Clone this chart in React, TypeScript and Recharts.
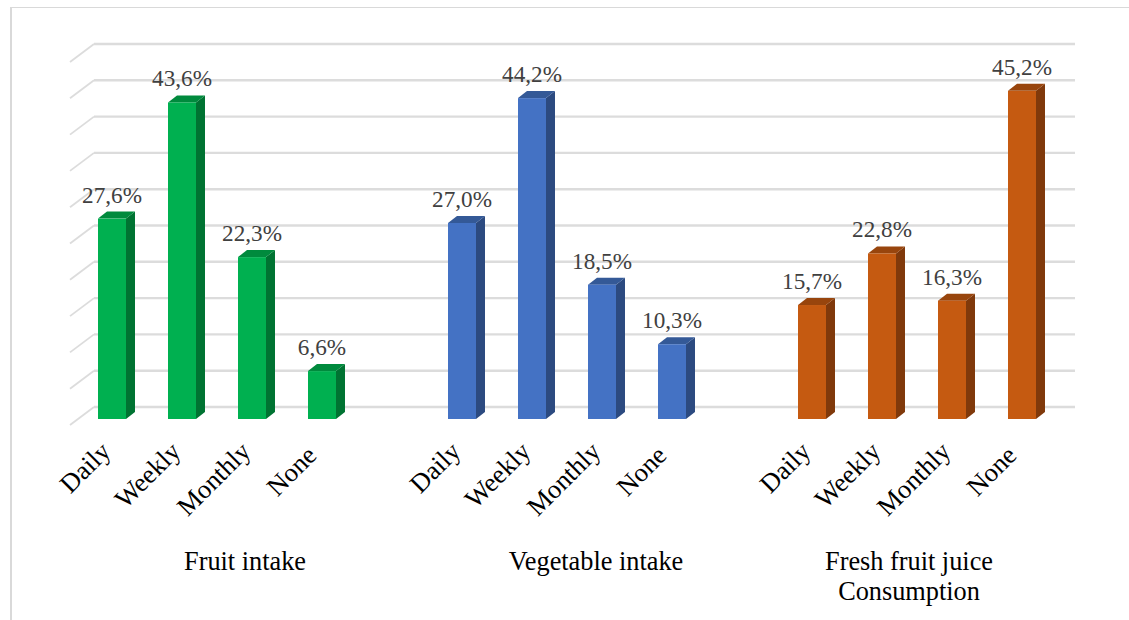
import { BarChart, Bar, XAxis, YAxis, CartesianGrid, Cell, LabelList } from 'recharts';

const frequencies = ['Daily', 'Weekly', 'Monthly', 'None'];
const fruitValues = [27.6, 43.6, 22.3, 6.6];
const vegetableValues = [27.0, 44.2, 18.5, 10.3];
const juiceValues = [15.7, 22.8, 16.3, 45.2];
const yTicks = [0, 5, 10, 15, 20, 25, 30, 35, 40, 45, 50];

const GREEN = { front: '#00B050', side: '#007332', top: '#008A3D' };
const BLUE = { front: '#4472C4', side: '#2C4A80', top: '#345997' };
const ORANGE = { front: '#C55A11', side: '#80390B', top: '#98450D' };

// One row per slot on the axis, with an empty slot between the groups
const rows = (values: number[], palette: typeof GREEN) =>
    frequencies.map((label, i) => ({ label, value: values[i], palette }));
const gap = { label: '', value: null, palette: GREEN };
const data = [...rows(fruitValues, GREEN), gap, ...rows(vegetableValues, BLUE), gap, ...rows(juiceValues, ORANGE)];

const FONT = '"Liberation Serif", "Times New Roman", serif';
const DEPTH_X = 9;
const DEPTH_Y = 7;

// Front, side and top faces of a box
const Box3D = ({ x, y, width, height, payload }: any) => {
    if (!height) return null;
    const { front, side, top } = payload.palette;
    const r = x + width;
    const b = y + height;
    return (
        <g>
            <polygon points={`${r},${y} ${r + DEPTH_X},${y - DEPTH_Y} ${r + DEPTH_X},${b - DEPTH_Y} ${r},${b}`} fill={side} />
            <polygon points={`${x},${y} ${x + DEPTH_X},${y - DEPTH_Y} ${r + DEPTH_X},${y - DEPTH_Y} ${r},${y}`} fill={top} />
            <rect x={x} y={y} width={width} height={height} fill={front} />
        </g>
    );
};

// Back wall line plus the slanted piece on the side wall
const GridLine3D = ({ x1, x2, y1 }: any) => (
    <g key={`grid-${y1}`} stroke="#DCDCDC" fill="none">
        <line x1={x1 + 17} x2={x2 + 18} y1={y1 - 12} y2={y1 - 12} strokeWidth={2.4} />
        <line x1={x1 - 7} x2={x1 + 17} y1={y1 + 6} y2={y1 - 12} strokeWidth={1.8} />
    </g>
);

const CategoryTick = ({ x, y, payload }: any) => {
    // The shorter label sits a little further down the slant
    const nudge = payload.value === 'None' ? 4 : 0;
    const tx = x - nudge;
    const ty = y + nudge;
    return (
        <text
            x={tx}
            y={ty}
            transform={`rotate(-45 ${tx} ${ty})`}
            textAnchor="end"
            fontFamily={FONT}
            fontSize={26.4}
            fill="#000"
        >
            {payload.value}
        </text>
    );
};

const ValueLabel = ({ x, y, width, value }: any) =>
    value == null ? null : (
        <text x={x + width / 2} y={y - 16} textAnchor="middle" fontFamily={FONT} fontSize={23.2} fill="#404040">
            {`${value.toFixed(1).replace('.', ',')}%`}
        </text>
    );

const groupTitle = (text: string, left: number, top: number) => (
    <div
        key={text}
        style={{
            position: 'absolute',
            left,
            top,
            width: 300,
            textAlign: 'center',
            fontFamily: FONT,
            fontSize: 26.3,
            lineHeight: '30px',
            color: '#000',
            whiteSpace: 'pre-line',
        }}
    >
        {text}
    </div>
);

export default function App() {
    return (
        <div style={{ position: 'absolute', left: 0, top: 0, width: 1129, height: 620, overflow: 'hidden', background: '#fff' }}>
            <div
                style={{
                    position: 'absolute',
                    left: 10,
                    top: 7,
                    width: 1130,
                    height: 620,
                    border: '1px solid #D9D9D9',
                    borderWidth: '1px 0 0 2px',
                }}
            />
            <BarChart
                width={1129}
                height={620}
                data={data}
                margin={{ top: 56, right: 72, bottom: 141, left: 77 }}
                style={{ position: 'absolute', left: 0, top: 0 }}
            >
                <CartesianGrid vertical={false} horizontal={(props: any) => <GridLine3D key={props.y1} {...props} />} />
                <YAxis hide domain={[0, 50]} ticks={yTicks} />
                <XAxis
                    dataKey="label"
                    interval={0}
                    height={60}
                    axisLine={false}
                    tickLine={false}
                    tick={<CategoryTick />}
                    tickMargin={28}
                />
                <Bar dataKey="value" barSize={28} shape={<Box3D />} isAnimationActive={false}>
                    {data.map((d, i) => (
                        <Cell key={i} fill={d.palette.front} />
                    ))}
                    <LabelList dataKey="value" content={<ValueLabel />} />
                </Bar>
            </BarChart>
            {groupTitle('Fruit intake', 95, 547)}
            {groupTitle('Vegetable intake', 446, 547)}
            {groupTitle('Fresh fruit juice\nConsumption', 759, 547)}
        </div>
    );
}
